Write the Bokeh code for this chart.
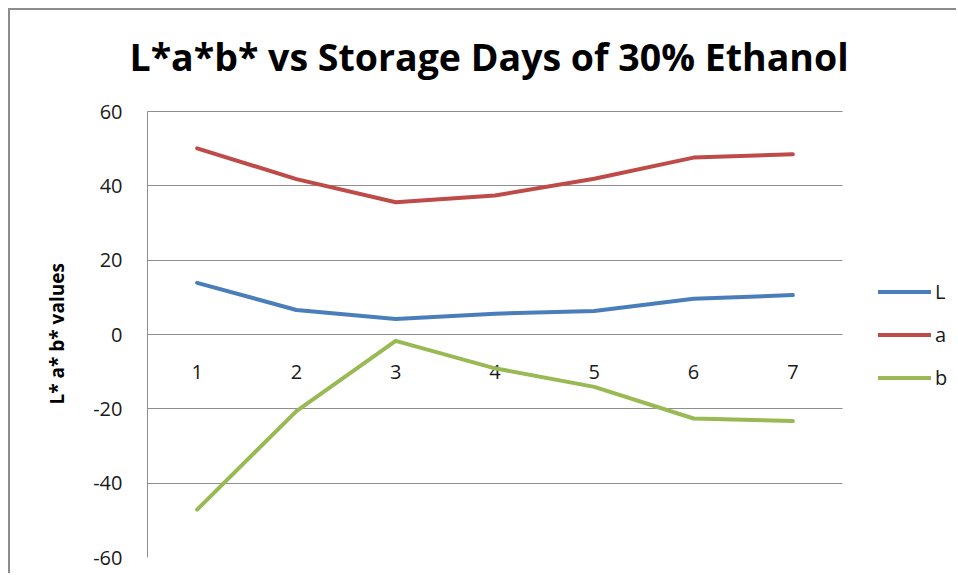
from bokeh.plotting import figure
from bokeh.models import Range1d, FixedTicker, Legend, LegendItem, ColumnDataSource, Label, Title
from bokeh.core.properties import value
from bokeh.embed import file_html
from bokeh.resources import INLINE

days = [1, 2, 3, 4, 5, 6, 7]
day_labels = ["1", "2", "3", "4", "5", "6", "7"]
L_vals = [13.9, 6.6, 4.2, 5.6, 6.3, 9.6, 10.6]
a_vals = [50.1, 41.8, 35.6, 37.4, 41.9, 47.6, 48.5]
b_vals = [-47.1, -20.6, -1.7, -9.1, -14.1, -22.6, -23.3]
y_ticks = [-60, -40, -20, 0, 20, 40, 60]
title_text = "L*a*b* vs Storage Days of 30% Ethanol"
y_title_text = "L* a* b* values"

FONT = "Open Sans"

# layout (pixels): plot area 695 x 446; the frame also covers a 19 px strip left of it,
# a 116 px legend strip right of it and a 101 px title strip above it
PLOT_W, PLOT_H = 695, 446
LEFT_PAD, LEGEND_W, TITLE_H, BOTTOM = 19, 116, 101, 18
W, H = 948, 565
px_x = PLOT_W / 7.0
px_y = PLOT_H / 120.0
x_start = 0.5 - LEFT_PAD / px_x
x_end = 7.5 + LEGEND_W / px_x
y_end = 60 + TITLE_H / px_y

p = figure(width=W, height=H, output_backend="svg", toolbar_location=None,
           x_range=Range1d(x_start, x_end), y_range=Range1d(-60, y_end),
           min_border_left=118, min_border_top=0, min_border_right=0,
           min_border_bottom=BOTTOM, background_fill_color="white",
           border_fill_color="white")
p.styles = {"margin-left": "8px", "margin-top": "8px",
            "border-left": "2px solid #8c8c8c", "border-top": "2px solid #8c8c8c"}
p.outline_line_color = None

title = Label(x=1, y=H - BOTTOM - 46, x_units="screen", y_units="screen",
              text=title_text, text_font=FONT, text_font_style="bold",
              text_font_size="37.5px", text_color="black",
              text_align="left", text_baseline="alphabetic")
p.add_layout(title)

# y axis (tick labels only; the axis line is drawn as a bounded grid line)
p.yaxis.ticker = FixedTicker(ticks=y_ticks)
p.yaxis.major_label_overrides = {t: str(t) for t in y_ticks}
p.yaxis.major_tick_line_color = None
p.yaxis.minor_tick_line_color = None
p.yaxis.axis_line_color = None
p.yaxis.major_label_text_font = FONT
p.yaxis.major_label_text_font_size = "20px"
p.yaxis.major_label_text_color = "#1a1a1a"
p.yaxis.major_label_standoff = 0

ytitle = Title(text=y_title_text, align="left", offset=153, vertical_align="bottom",
               standoff=41, text_font=FONT, text_font_style="bold",
               text_font_size="19px", text_color="black")
p.add_layout(ytitle, "left")

p.xaxis.visible = False
p.xgrid.ticker = FixedTicker(ticks=[0.5])
p.xgrid.grid_line_color = "#8e8e8e"
p.xgrid.grid_line_width = 1
p.xgrid.cross_bounds = (-60, 60)
p.ygrid.ticker = FixedTicker(ticks=y_ticks)
p.ygrid.grid_line_color = "#8e8e8e"
p.ygrid.grid_line_width = 1
p.ygrid.cross_bounds = (0.5, 7.5)

# category labels at y = 0 (axis crosses at zero)
lab_src = ColumnDataSource(dict(x=days, y=[0] * len(days), t=day_labels))
p.text(x="x", y="y", text="t", source=lab_src, text_font=value(FONT),
       text_font_size="20px", text_color="#1a1a1a", text_align="center",
       text_baseline="middle", y_offset=37)

r_L = p.line(days, L_vals, line_color="#4A7EBB", line_width=4, line_join="round", line_cap="round")
r_a = p.line(days, a_vals, line_color="#BE4B48", line_width=4, line_join="round", line_cap="round")
r_b = p.line(days, b_vals, line_color="#98B954", line_width=4, line_join="round", line_cap="round")

legend = Legend(items=[LegendItem(label="L", renderers=[r_L]),
                       LegendItem(label="a", renderers=[r_a]),
                       LegendItem(label="b", renderers=[r_b])],
                location=(LEFT_PAD + PLOT_W + 36, 166), padding=0, margin=0, spacing=16,
                glyph_width=53, glyph_height=27, label_height=27,
                label_standoff=4, border_line_color=None,
                background_fill_alpha=0)
legend.label_text_font = FONT
legend.label_text_font_size = "20px"
legend.label_text_color = "#1a1a1a"
p.add_layout(legend)

open("out.html", "w").write(file_html(p, INLINE))
